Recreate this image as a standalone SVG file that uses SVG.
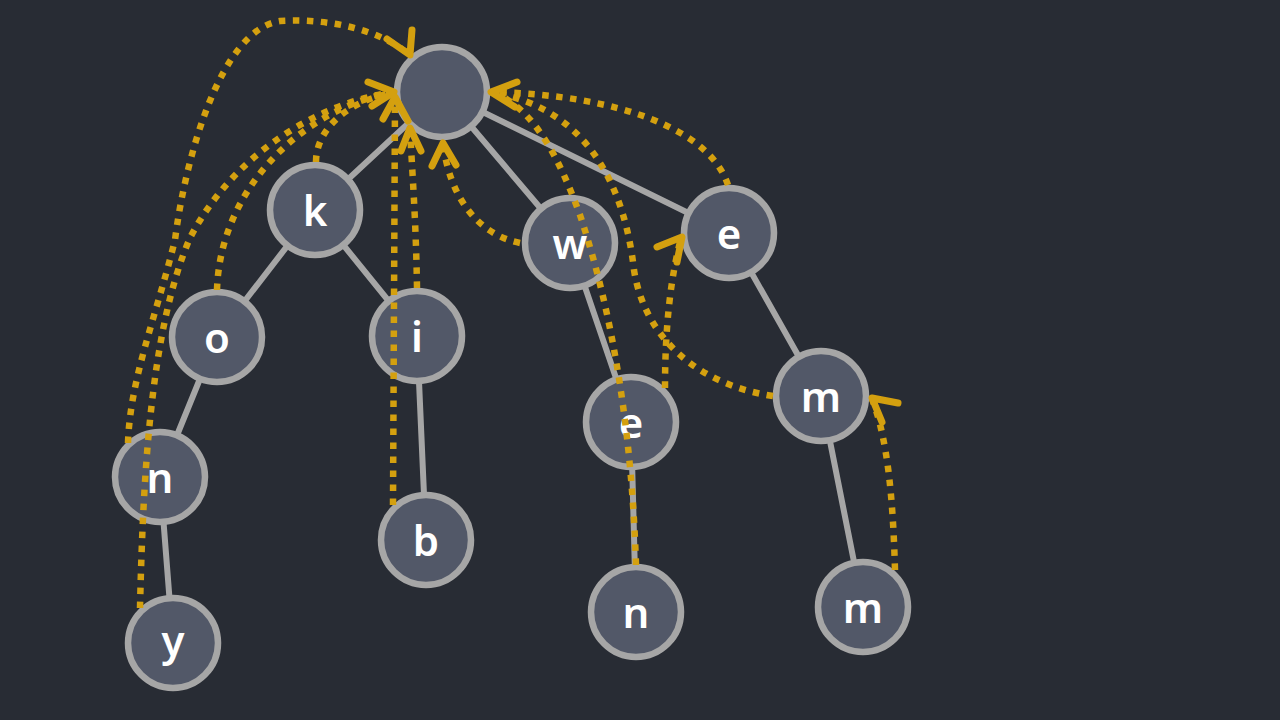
<svg xmlns="http://www.w3.org/2000/svg" width="1280" height="720" viewBox="0 0 1280 720">
<style>
.edge{stroke:#a6a6a6;stroke-width:6;stroke-linecap:round}
.node circle{fill:#525868;stroke:#a6a6a6;stroke-width:6.5}
.node text{fill:#ffffff;font-family:"Noto Sans","DejaVu Sans",sans-serif;font-weight:600;font-size:42px;text-anchor:middle}
.link{fill:none;stroke:#d4a00f;stroke-width:6.5;stroke-dasharray:6.5 7.5}
.head{fill:none;stroke:#d4a00f;stroke-width:7;stroke-linecap:round;stroke-linejoin:round}
</style>
<rect width="1280" height="720" fill="#282c34"/>
<g id="edges">
<line class="edge" x1="442" y1="92" x2="315" y2="210"/>
<line class="edge" x1="442" y1="92" x2="570" y2="243"/>
<line class="edge" x1="442" y1="92" x2="729" y2="233"/>
<line class="edge" x1="315" y1="210" x2="217" y2="337"/>
<line class="edge" x1="315" y1="210" x2="417" y2="336"/>
<line class="edge" x1="217" y1="337" x2="160" y2="477"/>
<line class="edge" x1="160" y1="477" x2="173" y2="643"/>
<line class="edge" x1="417" y1="336" x2="426" y2="540"/>
<line class="edge" x1="570" y1="243" x2="631" y2="422"/>
<line class="edge" x1="631" y1="422" x2="636" y2="612"/>
<line class="edge" x1="729" y1="233" x2="821" y2="396"/>
<line class="edge" x1="821" y1="396" x2="863" y2="607"/>
</g>
<g id="node-root" class="node"><circle cx="442" cy="92" r="45"/></g>
<g id="node-k" class="node"><circle cx="315" cy="210" r="45"/><text x="315" y="226">k</text></g>
<g id="node-o" class="node"><circle cx="217" cy="337" r="45"/><text x="217" y="353">o</text></g>
<g id="node-i" class="node"><circle cx="417" cy="336" r="45"/><text x="417" y="352">i</text></g>
<g id="node-n" class="node"><circle cx="160" cy="477" r="45"/><text x="160" y="493">n</text></g>
<g id="node-y" class="node"><circle cx="173" cy="643" r="45"/><text x="173" y="656">y</text></g>
<g id="node-b" class="node"><circle cx="426" cy="540" r="45"/><text x="426" y="556">b</text></g>
<g id="node-w" class="node"><circle cx="570" cy="243" r="45"/><text x="570" y="259">w</text></g>
<g id="node-e1" class="node"><circle cx="729" cy="233" r="45"/><text x="729" y="249">e</text></g>
<g id="node-e2" class="node"><circle cx="631" cy="422" r="45"/><text x="631" y="438">e</text></g>
<g id="node-n2" class="node"><circle cx="636" cy="612" r="45"/><text x="636" y="628">n</text></g>
<g id="node-m1" class="node"><circle cx="821" cy="396" r="45"/><text x="821" y="412">m</text></g>
<g id="node-m2" class="node"><circle cx="863" cy="607" r="45"/><text x="863" y="623">m</text></g>
<g id="links">
<path class="link" d="M 316 162 C 316 128, 350 100, 393 93"/>
<path class="link" d="M 217 290 C 220 190, 300 110, 393 92"/>
<path class="link" d="M 140 608 C 143 480, 150 330, 190 238 C 230 160, 310 105, 393 92"/>
<path class="link" d="M 128 443 C 130 380, 155 320, 175 240 C 185 160, 220 30, 280 21 C 330 18, 380 30, 410 55"/>
<path class="link" d="M 393 505 L 395 99"/>
<path class="link" d="M 417 288 C 416 220, 412 170, 410 128"/>
<path class="link" d="M 520 243 C 480 235, 450 200, 443 143"/>
<path class="link" d="M 728 185 C 710 130, 620 95, 492 92"/>
<path class="link" d="M 636 565 C 632 440, 615 320, 580 215 C 560 160, 535 110, 495 93"/>
<path class="link" d="M 773 396 C 700 385, 645 340, 634 270 C 625 190, 590 110, 495 93"/>
<path class="link" d="M 665 388 C 665 330, 670 280, 681 238"/>
<path class="link" d="M 895 570 C 893 500, 888 440, 872 399"/>
<polyline class="head" points="412,30 410,55 387,39"/>
<polyline class="head" points="368,82 394,92 372,106"/>
<polyline class="head" points="383,119 395,97 408,121"/>
<polyline class="head" points="401,151 410,128 421,151"/>
<polyline class="head" points="432,166 443,143 456,165"/>
<polyline class="head" points="517,82 491,92 515,107"/>
<polyline class="head" points="657,247 682,237 677,262"/>
<polyline class="head" points="898,403 872,398 882,422"/>
</g>
</svg>
